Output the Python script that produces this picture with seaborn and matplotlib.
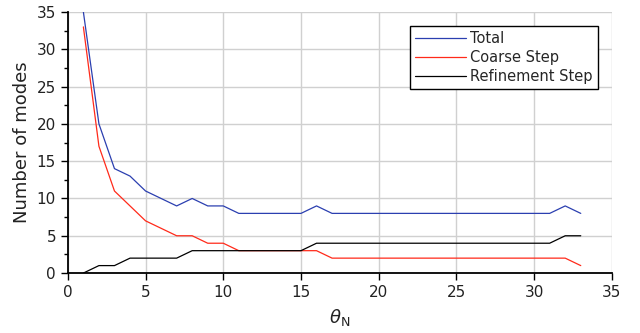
import numpy as np
import pandas as pd
import matplotlib
matplotlib.use("Agg")
import matplotlib.pyplot as plt
import seaborn as sns
from matplotlib.ticker import MultipleLocator

theta = list(range(1, 34))
total = [35, 20, 14, 13, 11, 10, 9, 10, 9, 9, 8, 8, 8, 8, 8, 9, 8, 8, 8, 8, 8, 8, 8, 8, 8, 8, 8, 8, 8, 8, 8, 9, 8]
coarse = [33, 17, 11, 9, 7, 6, 5, 5, 4, 4, 3, 3, 3, 3, 3, 3, 2, 2, 2, 2, 2, 2, 2, 2, 2, 2, 2, 2, 2, 2, 2, 2, 1]
refine = [0, 1, 1, 2, 2, 2, 2, 3, 3, 3, 3, 3, 3, 3, 3, 4, 4, 4, 4, 4, 4, 4, 4, 4, 4, 4, 4, 4, 4, 4, 4, 5, 5]
series_names = ["Total", "Coarse Step", "Refinement Step"]
colors = ["#2b3fb0", "#ff2a1a", "#000000"]

df = pd.DataFrame({
    "theta": theta * 3,
    "modes": total + coarse + refine,
    "series": [series_names[0]] * len(theta) + [series_names[1]] * len(theta) + [series_names[2]] * len(theta),
})

sns.set_theme(style="white")
plt.rcParams["font.family"] = ["DejaVu Sans"]

fig = plt.figure(figsize=(6.4, 3.33), dpi=100)
ax = fig.add_axes([0.106, 0.18, 0.85, 0.784])

sns.lineplot(data=df, x="theta", y="modes", hue="series", palette=colors,
             hue_order=series_names, ax=ax, linewidth=0.9)

ax.set_xlim(0, 35)
ax.set_ylim(0, 35)
ax.xaxis.set_major_locator(MultipleLocator(5))
ax.yaxis.set_major_locator(MultipleLocator(5))
ax.yaxis.set_minor_locator(MultipleLocator(2.5))
ax.grid(True, which="major", color="#d0d0d0", linewidth=1.0)
ax.set_axisbelow(True)
for s in ["top", "right"]:
    ax.spines[s].set_visible(False)
for s in ["left", "bottom"]:
    ax.spines[s].set_color("black")
    ax.spines[s].set_linewidth(1.3)
ax.tick_params(which="major", direction="out", length=5, width=1.0, color="black",
               labelsize=11, left=True, bottom=True, labelcolor="#222222")
ax.tick_params(which="minor", direction="out", length=3, width=1.0, color="black", left=True)

ax.set_xlabel(r"$\theta_{\mathrm{N}}$", fontsize=13, color="#222222", labelpad=5)
ax.set_ylabel("Number of modes", fontsize=13, color="#222222")

leg = ax.legend(loc="upper right", bbox_to_anchor=(0.982, 0.965), fontsize=10.5,
                frameon=True, fancybox=False, edgecolor="black", handlelength=3.5,
                borderpad=0.35, labelspacing=0.3, handletextpad=0.3, framealpha=1,
                borderaxespad=0.3)
leg.get_frame().set_linewidth(1.0)
for line in leg.get_lines():
    line.set_linewidth(0.9)

fig.savefig("out.png", dpi=100)
